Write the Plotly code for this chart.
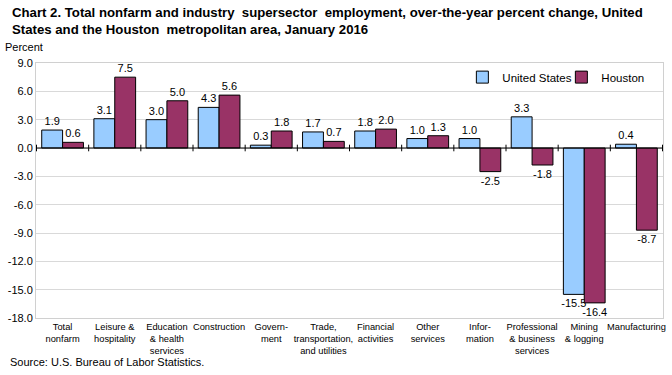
import plotly.graph_objects as go

categories = ["Total<br>nonfarm", "Leisure &<br>hospitality", "Education<br>& health<br>services",
              "Construction", "Govern-<br>ment", "Trade,<br>transportation,<br>and utilities",
              "Financial<br>activities", "Other<br>services", "Infor-<br>mation",
              "Professional<br>& business<br>services", "Mining<br>& logging", "Manufacturing"]
us_values = [1.9, 3.1, 3.0, 4.3, 0.3, 1.7, 1.8, 1.0, 1.0, 3.3, -15.5, 0.4]
houston_values = [0.6, 7.5, 5.0, 5.6, 1.8, 0.7, 2.0, 1.3, -2.5, -1.8, -16.4, -8.7]
y_ticks = [9, 6, 3, 0, -3, -6, -9, -12, -15, -18]

FONT = "Liberation Sans, Arial, sans-serif"

fig = go.Figure()
fig.add_trace(go.Bar(x=categories, y=us_values, name="United States",
                     marker=dict(color="#99CCFF", line=dict(color="black", width=1)),
                     text=[f"{v:.1f}" for v in us_values], textposition="outside",
                     textfont=dict(size=11, color="black"), cliponaxis=False,
                     constraintext="none"))
fig.add_trace(go.Bar(x=categories, y=houston_values, name="Houston",
                     marker=dict(color="#993366", line=dict(color="black", width=1)),
                     text=[f"{v:.1f}" for v in houston_values], textposition="outside",
                     textfont=dict(size=11, color="black"), cliponaxis=False,
                     constraintext="none"))

# small tick marks on the zero line between categories
for i in range(len(categories) + 1):
    fig.add_shape(type="line", xref="x", yref="y", x0=i - 0.5, x1=i - 0.5, y0=-0.35, y1=0.35,
                  line=dict(color="black", width=1))
fig.add_shape(type="line", xref="paper", yref="y", x0=0, x1=1, y0=0, y1=0,
              line=dict(color="black", width=1))

fig.update_layout(
    width=672, height=375,
    margin=dict(l=36, r=9, t=63, b=57),
    paper_bgcolor="white", plot_bgcolor="white",
    font=dict(family=FONT, size=11, color="black"),
    barmode="group", bargap=0.2, bargroupgap=0,
    legend=dict(orientation="h", x=0.68, xanchor="left", y=1.0015, yanchor="top",
                font=dict(size=11.5), bgcolor="rgba(0,0,0,0)", traceorder="normal",
                entrywidth=54, entrywidthmode="pixels"),
    xaxis=dict(showgrid=False, showline=True, linecolor="#d0d0d0", mirror=True,
               ticks="", tickangle=0, tickfont=dict(size=9.3), zeroline=False,
               automargin=False),
    yaxis=dict(range=[-18, 9], tickvals=y_ticks, ticktext=[f"{v:.1f}" for v in y_ticks],
               showgrid=True, gridcolor="#d9d9d9", showline=True, linecolor="#d0d0d0",
               mirror=True, zeroline=False, tickfont=dict(size=11), ticks="",
               automargin=False),
    annotations=[
        dict(text="<b>Chart 2. Total nonfarm and industry  supersector  employment, over-the-year percent change, United<br>States and the Houston  metropolitan area, January 2016</b>",
             xref="paper", yref="paper", x=-0.041, y=1.2345, xanchor="left", yanchor="top",
             align="left", showarrow=False, font=dict(size=13.2)),
        dict(text="Percent", xref="paper", yref="paper", x=-0.052, y=1.031, xanchor="left",
             yanchor="bottom", showarrow=False, font=dict(size=11)),
        dict(text="Source: U.S. Bureau of Labor Statistics.", xref="paper", yref="paper",
             x=-0.044, y=-0.143, xanchor="left", yanchor="top", showarrow=False,
             font=dict(size=11)),
    ],
)

fig.write_html("out.html", config={"displayModeBar": False},
               post_script="document.body.style.margin='0';")
